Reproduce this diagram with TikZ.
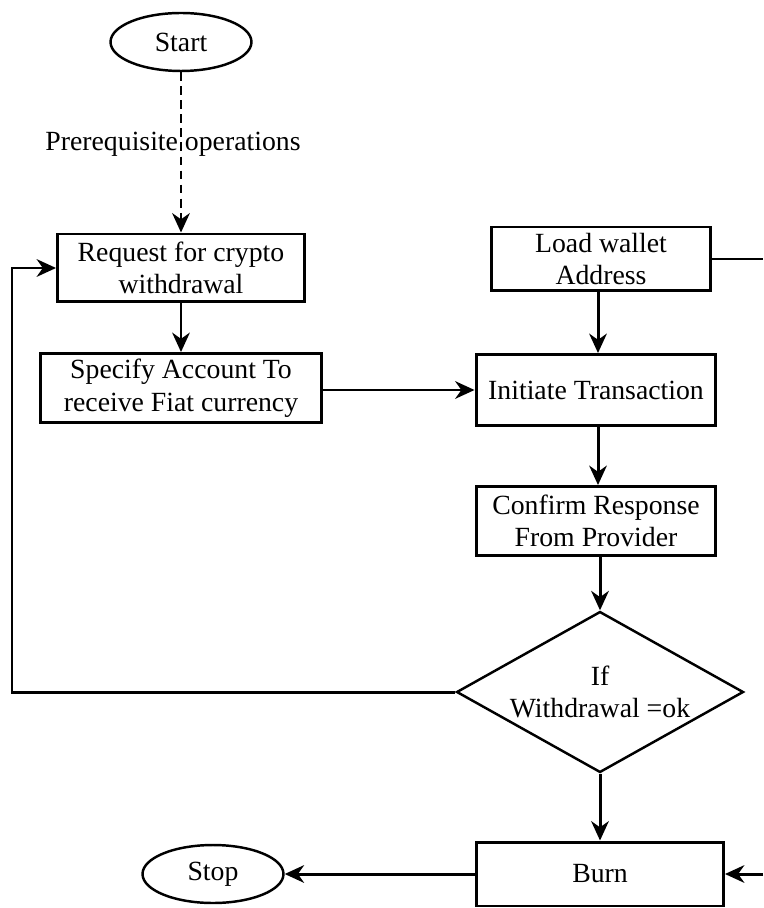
\documentclass[tikz,border=0pt]{standalone}
\usepackage{fontspec}
\setmainfont{Liberation Serif}
\usetikzlibrary{arrows.meta, positioning, shapes.geometric}

\begin{document}
\begin{tikzpicture}[
    x=0.02cm, y=-0.02cm,
    font=\fontsize{15.8}{18.5}\selectfont,
    box/.style={rectangle, draw, line width=1.7pt, align=center, inner sep=2pt},
    term/.style={ellipse, draw, line width=1.4pt, minimum width=2.82cm, minimum height=1.16cm},
    decision/.style={diamond, draw, line width=1.4pt, align=center, aspect=1.78, inner sep=-3pt,
      minimum width=5.74cm, minimum height=3.22cm},
    line/.style={line width=1.7pt},
    arrow/.style={line, -{Stealth[length=11pt, width=10pt, inset=3.5pt]}}
  ]
  \useasboundingbox (0,0) rectangle (763,908);

  % left column
  \node[term] (start) at (181,42) {Start};
  \node[box, minimum width=4.94cm, minimum height=1.36cm] (request) at (181,268) {Request for crypto\\withdrawal};
  \node[box, minimum width=5.62cm, minimum height=1.38cm] (specify) at (181,388) {Specify Account To\\receive Fiat currency};
  \node[term] (stop) at (213,874) {Stop};

  % right column
  \node[box, minimum width=4.4cm, minimum height=1.28cm] (wallet) at (601,259) {Load wallet\\Address};
  \node[box, minimum width=4.8cm, minimum height=1.42cm] (initiate) at (596,390) {Initiate Transaction};
  \node[box, minimum width=4.8cm, minimum height=1.38cm] (confirm) at (596,521) {Confirm Response\\From Provider};
  \node[decision] (check) at (600,692) {If\\Withdrawal =ok};
  \node[box, minimum width=4.94cm, minimum height=1.28cm] (burn) at (600,874) {Burn};

  \coordinate (loop) at (12,692);
  \coordinate (walletout) at (763,259);
  \coordinate (burnin) at (763,874);

  % connectors
  \draw[arrow, dash pattern=on 5pt off 3pt] (start) -- (request)
    node[pos=0.45, xshift=-0.16cm] {Prerequisite operations};
  \draw[arrow] (request) -- (specify);
  \draw[arrow] (specify.east |- initiate.west) -- (initiate.west);
  \draw[arrow] (wallet.south -| 598,0) -- (initiate.north -| 598,0);
  \draw[line] (wallet) -- (walletout);
  \draw[arrow] (initiate.south -| 598,0) -- (confirm.north -| 598,0);
  \draw[arrow] (confirm.south -| check.north) -- (check);
  \draw[arrow] (check.west) -- (loop) |- (request.west);
  \draw[arrow] (check) -- (burn);
  \draw[arrow] (burnin) -- (burn);
  \draw[arrow] (burn) -- (stop);
\end{tikzpicture}
\end{document}
